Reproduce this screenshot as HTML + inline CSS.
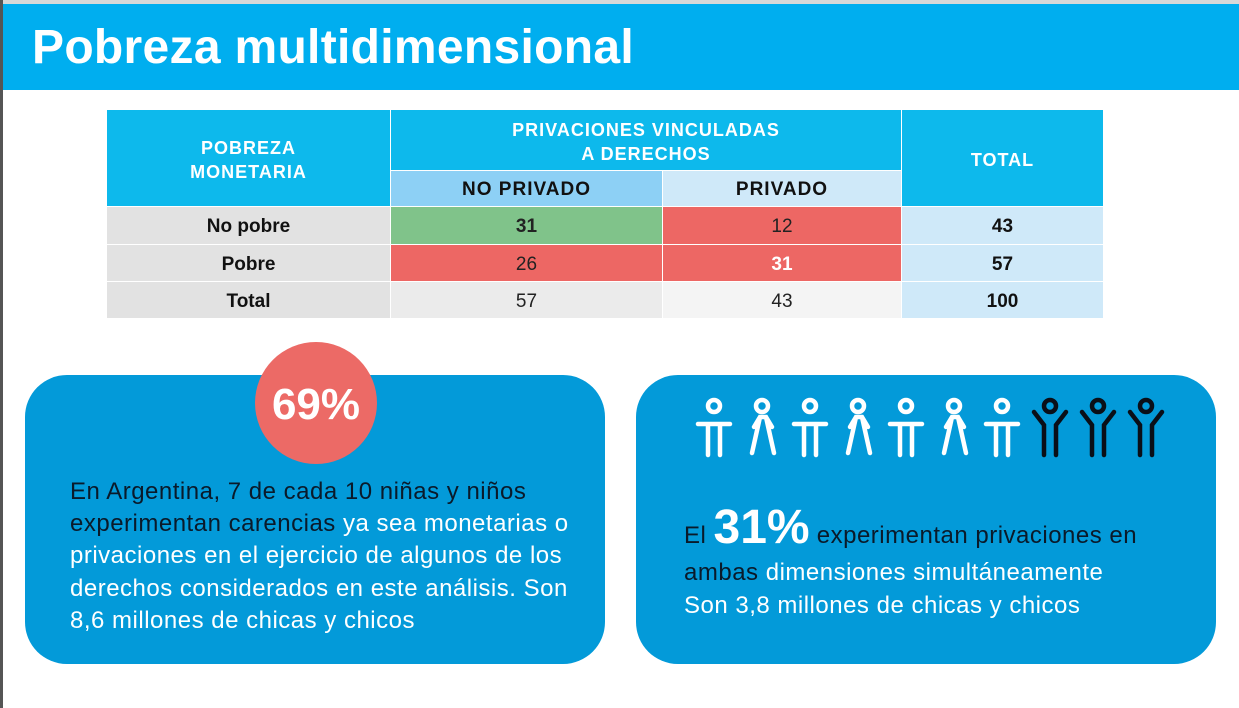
<!DOCTYPE html>
<html><head><meta charset="utf-8"><style>
*{margin:0;padding:0;box-sizing:border-box}
body{width:1239px;height:708px;background:#fff;position:relative;overflow:hidden;font-family:"Liberation Sans",sans-serif}
.a{position:absolute}
.c{position:absolute;display:flex;align-items:center;justify-content:center;text-align:center;font-size:19px;color:#222;padding-top:3px}
.h{color:#fff;font-weight:bold;font-size:18px;line-height:24px;letter-spacing:1px}
.t{position:absolute;left:70px;font-size:24px;color:#fff;white-space:nowrap;letter-spacing:0.5px}
.d{color:#0a1a2a}
</style></head><body>
<div class="a" style="left:0;top:0;width:1239px;height:4px;background:#d8d8d8"></div>
<div class="a" style="left:0;top:0;width:3px;height:708px;background:#555"></div>
<div class="a" style="left:3px;top:4px;width:1236px;height:86px;background:#00aeef"></div>
<div class="a" style="left:32px;top:20px;font-size:48px;font-weight:bold;color:#fff;letter-spacing:0.3px">Pobreza multidimensional</div>

<div class="c h" style="left:107px;top:110px;width:283px;height:96px;background:#0db9ec">POBREZA<br>MONETARIA</div>
<div class="c h" style="left:391px;top:110px;width:510px;height:60px;background:#0db9ec">PRIVACIONES VINCULADAS<br>A DERECHOS</div>
<div class="c h" style="left:902px;top:110px;width:201px;height:96px;background:#0db9ec">TOTAL</div>
<div class="c" style="left:391px;top:171px;width:271px;height:35px;background:#8dd0f5;font-weight:bold;color:#111;letter-spacing:1px">NO PRIVADO</div>
<div class="c" style="left:663px;top:171px;width:238px;height:35px;background:#cfe9f9;font-weight:bold;color:#111;letter-spacing:1px">PRIVADO</div>

<div class="c" style="left:107px;top:207px;width:283px;height:37px;background:#e2e2e2;font-weight:bold;color:#111">No pobre</div>
<div class="c" style="left:391px;top:207px;width:271px;height:37px;background:#80c38a;font-weight:bold">31</div>
<div class="c" style="left:663px;top:207px;width:238px;height:37px;background:#ed6764">12</div>
<div class="c" style="left:902px;top:207px;width:201px;height:37px;background:#cfe9f9;font-weight:bold;color:#111">43</div>

<div class="c" style="left:107px;top:245px;width:283px;height:36px;background:#e2e2e2;font-weight:bold;color:#111">Pobre</div>
<div class="c" style="left:391px;top:245px;width:271px;height:36px;background:#ed6764">26</div>
<div class="c" style="left:663px;top:245px;width:238px;height:36px;background:#ed6764;font-weight:bold;color:#fff">31</div>
<div class="c" style="left:902px;top:245px;width:201px;height:36px;background:#cfe9f9;font-weight:bold;color:#111">57</div>

<div class="c" style="left:107px;top:282px;width:283px;height:36px;background:#e2e2e2;font-weight:bold;color:#111">Total</div>
<div class="c" style="left:391px;top:282px;width:271px;height:36px;background:#ebebeb">57</div>
<div class="c" style="left:663px;top:282px;width:238px;height:36px;background:#f4f4f4">43</div>
<div class="c" style="left:902px;top:282px;width:201px;height:36px;background:#cfe9f9;font-weight:bold;color:#111">100</div>

<div class="a" style="left:25px;top:375px;width:580px;height:289px;background:#039ad9;border-radius:42px"></div>
<div class="c" style="left:255px;top:342px;width:122px;height:122px;border-radius:50%;background:#ec6a66;color:#fff;font-weight:bold;font-size:44px">69%</div>
<div class="t" style="top:478px"><span class="d">En Argentina, 7 de cada 10 niñas y niños</span></div>
<div class="t" style="top:510px"><span class="d">experimentan carencias</span> ya sea monetarias o</div>
<div class="t" style="top:542px">privaciones en el ejercicio de algunos de los</div>
<div class="t" style="top:575px">derechos considerados en este análisis. Son</div>
<div class="t" style="top:607px">8,6 millones de chicas y chicos</div>

<div class="a" style="left:636px;top:375px;width:580px;height:289px;background:#039ad9;border-radius:42px"></div>
<svg class="a" style="left:690px;top:395px" width="490" height="65" viewBox="0 0 490 65" fill="none" stroke-width="4.5" stroke-linecap="round">
<g stroke="#fff">
<g transform="translate(0,0)"><circle cx="24" cy="11" r="6"/><path d="M8 29H40M18 29V60M30 29V60"/></g>
<g transform="translate(48,0)"><circle cx="24" cy="11" r="6"/><path d="M16 32L22 22L28 22L34 32M22 22L14 58M28 22L36 58"/></g>
<g transform="translate(96,0)"><circle cx="24" cy="11" r="6"/><path d="M8 29H40M18 29V60M30 29V60"/></g>
<g transform="translate(144,0)"><circle cx="24" cy="11" r="6"/><path d="M16 32L22 22L28 22L34 32M22 22L14 58M28 22L36 58"/></g>
<g transform="translate(192,0)"><circle cx="24" cy="11" r="6"/><path d="M8 29H40M18 29V60M30 29V60"/></g>
<g transform="translate(240,0)"><circle cx="24" cy="11" r="6"/><path d="M16 32L22 22L28 22L34 32M22 22L14 58M28 22L36 58"/></g>
<g transform="translate(288,0)"><circle cx="24" cy="11" r="6"/><path d="M8 29H40M18 29V60M30 29V60"/></g>
</g>
<g stroke="#0a0f18">
<g transform="translate(336,0)"><circle cx="24" cy="11" r="6"/><path d="M8 17L18 30V60M40 17L30 30V60"/></g>
<g transform="translate(384,0)"><circle cx="24" cy="11" r="6"/><path d="M8 17L18 30V60M40 17L30 30V60"/></g>
<g transform="translate(432,0)"><circle cx="24" cy="11" r="6"/><path d="M8 17L18 30V60M40 17L30 30V60"/></g>
</g>
</svg>
<div class="t" style="left:684px;top:500px;color:#0a1a2a"><span style="font-size:24px">El </span><span style="font-size:48px;font-weight:bold;color:#fff;letter-spacing:0">31%</span><span style="font-size:24px"> experimentan privaciones en</span></div>
<div class="t" style="left:684px;top:559px"><span class="d">ambas</span> dimensiones simultáneamente</div>
<div class="t" style="left:684px;top:592px">Son 3,8 millones de chicas y chicos</div>
</body></html>
